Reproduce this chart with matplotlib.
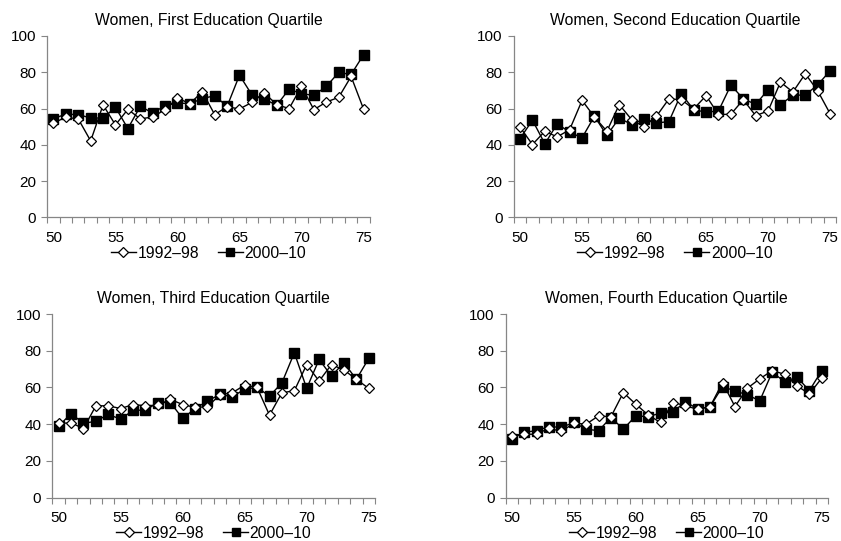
import matplotlib
matplotlib.use("Agg")
import matplotlib.pyplot as plt
from matplotlib.ticker import MultipleLocator, FixedLocator

plt.rcParams['font.family'] = ['Liberation Sans', 'DejaVu Sans']

ages = list(range(50, 76))
x_ticks = [50, 55, 60, 65, 70, 75]
y_ticks = [0, 20, 40, 60, 80, 100]
series_labels = ["1992–98", "2000–10"]

titles = [
    "Women, First Education Quartile",
    "Women, Second Education Quartile",
    "Women, Third Education Quartile",
    "Women, Fourth Education Quartile",
]

q1_early = [52.1, 55.2, 54.3, 42.2, 62.0, 51.0, 59.6, 54.3, 55.4, 59.4, 65.8, 62.7, 69.3,
            56.7, 61.0, 59.8, 63.4, 68.6, 62.2, 60.0, 72.2, 59.4, 63.6, 66.2, 77.7, 59.8]
q1_late = [54.5, 56.9, 56.7, 54.8, 54.8, 60.7, 49.0, 61.2, 57.6, 61.6, 63.1, 62.7, 65.5,
           67.1, 61.2, 78.4, 67.6, 65.3, 61.8, 70.7, 68.2, 67.3, 72.2, 79.9, 78.8, 89.6]

q2_early = [49.7, 40.2, 47.5, 44.4, 48.4, 64.5, 55.4, 47.5, 62.2, 53.9, 50.0, 55.8, 65.3,
            64.9, 59.8, 67.1, 56.7, 56.9, 64.9, 56.1, 58.7, 74.6, 69.1, 79.2, 69.8, 57.2]
q2_late = [43.5, 53.6, 40.6, 51.6, 47.0, 43.9, 55.8, 45.2, 54.8, 51.2, 54.3, 52.1, 52.8,
           68.2, 59.4, 58.0, 58.7, 72.9, 65.4, 62.3, 70.4, 62.2, 67.3, 67.5, 73.1, 80.8]

q3_early = [40.4, 40.7, 37.6, 50.0, 50.0, 48.5, 50.7, 50.0, 50.4, 53.5, 50.7, 49.1, 49.5,
            56.0, 57.1, 61.3, 60.0, 44.9, 57.1, 58.2, 72.5, 63.5, 72.5, 69.5, 64.5, 59.5]
q3_late = [38.9, 45.8, 40.4, 41.6, 45.3, 42.7, 47.6, 47.6, 51.8, 51.8, 43.1, 48.5, 52.6,
           56.2, 54.9, 59.1, 60.0, 55.3, 62.5, 78.9, 59.5, 75.3, 66.2, 73.6, 64.4, 75.8]

q4_early = [33.8, 34.5, 34.5, 37.8, 36.0, 40.5, 40.0, 44.5, 44.0, 57.2, 50.9, 45.0, 40.9,
            51.8, 50.1, 48.0, 49.6, 62.7, 49.6, 59.6, 64.7, 69.2, 67.2, 60.9, 56.5, 65.1]
q4_late = [32.0, 35.6, 36.4, 38.7, 38.2, 40.9, 37.3, 36.4, 43.6, 37.3, 44.5, 44.1, 46.0,
           46.5, 52.3, 48.2, 49.6, 60.5, 58.1, 56.0, 52.7, 68.3, 63.2, 65.6, 58.3, 69.2]

panels = [(q1_early, q1_late), (q2_early, q2_late), (q3_early, q3_late), (q4_early, q4_late)]

# axes rectangles in figure fractions: left, bottom, width, height
rects = [
    (0.0562, 0.598, 0.3834, 0.3355),
    (0.6110, 0.598, 0.3834, 0.3355),
    (0.0624, 0.0804, 0.3834, 0.3390),
    (0.6011, 0.0804, 0.3834, 0.3390),
]

fig = plt.figure(figsize=(8.41, 5.41), dpi=100)
axis_grey = "#868686"

for rect, title, (early, late) in zip(rects, titles, panels):
    ax = fig.add_axes(rect)
    ax.plot(ages, early, color="black", lw=1.0, marker="D", markersize=5.4,
            markerfacecolor="white", markeredgecolor="black", markeredgewidth=0.9,
            label=series_labels[0], zorder=3)
    ax.plot(ages, late, color="black", lw=1.0, marker="s", markersize=6.8,
            markerfacecolor="black", markeredgecolor="black",
            label=series_labels[1], zorder=2)
    ax.set_xlim(49.5, 75.5)
    ax.set_ylim(0, 100)
    ax.xaxis.set_major_locator(FixedLocator(x_ticks))
    ax.xaxis.set_minor_locator(MultipleLocator(1, offset=0.5))
    ax.yaxis.set_major_locator(FixedLocator(y_ticks))
    ax.tick_params(axis="x", which="major", length=0, labelsize=11, pad=9.5)
    ax.tick_params(axis="x", which="minor", length=4, width=0.8, color=axis_grey)
    ax.tick_params(axis="y", which="major", length=4, width=0.8, color=axis_grey,
                   labelsize=11, pad=4)
    for side in ("top", "right"):
        ax.spines[side].set_visible(False)
    for side in ("left", "bottom"):
        ax.spines[side].set_color(axis_grey)
        ax.spines[side].set_linewidth(0.9)
    ax.set_title(title, fontsize=11.3, pad=8)
    ax.legend(loc="upper center", bbox_to_anchor=(0.5, -0.155), ncol=2,
              frameon=False, fontsize=11.3, handlelength=1.6, handletextpad=0.1,
              columnspacing=1.2, borderpad=0.0, borderaxespad=0.0, numpoints=1,
              markerscale=0.85)

fig.savefig("out.png", dpi=100)
